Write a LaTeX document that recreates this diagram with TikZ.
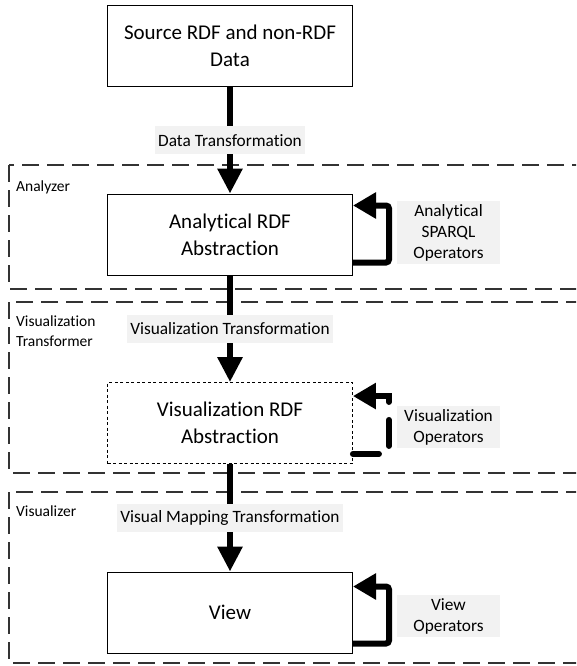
\documentclass[tikz,border=0pt]{standalone}
\usepackage{fontspec}
\setmainfont[Ligatures=NoCommon]{Carlito}
\usetikzlibrary{arrows.meta, positioning, calc}

\begin{document}
\begin{tikzpicture}[x=1pt, y=-1pt,
    block/.style={rectangle, draw=black, line width=1pt, fill=white, align=center, minimum width=245pt, minimum height=81pt, font=\fontsize{21}{27}\selectfont},
    vblock/.style={block, dash pattern=on 3pt off 2.5pt, line width=0.9pt},
    tlabel/.style={rectangle, fill=black!5, align=center, inner sep=3pt, minimum height=28pt, font=\fontsize{17.3}{21}\selectfont},
    oplabel/.style={tlabel, minimum width=103pt},
    group/.style={draw=black!80, line width=1.2pt, dash pattern=on 17pt off 8pt},
    grouptxt/.style={anchor=west, align=left, inner sep=2pt, font=\fontsize{15.5}{20}\selectfont},
    flow/.style={line width=6pt, -{Triangle[width=24pt, length=25pt]}},
    selfloop/.style={line width=6pt, rounded corners=3pt, -{Triangle[width=25pt, length=23pt]}}]

    \clip (0,0) rectangle (576,666);

    %% stage frames
    \draw[group] (9,165) rectangle (600,289);
    \draw[group] (9,302) rectangle (600,473);
    \draw[group] (9,492) rectangle (600,663);
    \node (ganalyzer) [grouptxt] at (14,187) {Analyzer};
    \node (gtransformer) [grouptxt] at (14,331) {Visualization\\Transformer};
    \node (gvisualizer) [grouptxt] at (14,511) {Visualizer};

    \node (src) [block] at (230,46) {Source RDF and non-RDF\\Data};
    \node (ana) [block] at (230,234.5) {Analytical RDF\\Abstraction};
    \node (vis) [vblock] at (230,423) {Visualization RDF\\Abstraction};
    \node (view) [block] at (230,612.5) {View};

    \draw[flow] (src) -- node[tlabel] {Data Transformation} (ana);
    \draw[flow] (ana) -- node[tlabel] {Visualization Transformation} (vis);
    \draw[flow] (vis) -- node[tlabel] {Visual Mapping Transformation} (view);

    %% operators on each abstraction
    \draw[selfloop] ([yshift=13pt]ana.south east) -- ++(36,0) |- ([yshift=-12pt]ana.north east);
    \draw[selfloop, rounded corners=0pt, line cap=round, dash pattern=on 26pt off 18pt] ([yshift=10pt]vis.south east) -- ++(36,0) |- ([yshift=-14pt]vis.north east);
    \draw[selfloop] ([yshift=10pt]view.south east) -- ++(36,0) |- ([yshift=-15pt]view.north east);

    \node (opana) [oplabel] at (448.5,232.5) {Analytical\\SPARQL\\Operators};
    \node (opvis) [oplabel] at (448.5,427) {Visualization\\Operators};
    \node (opview) [oplabel] at (448.5,616) {View\\Operators};

\end{tikzpicture}
\end{document}
